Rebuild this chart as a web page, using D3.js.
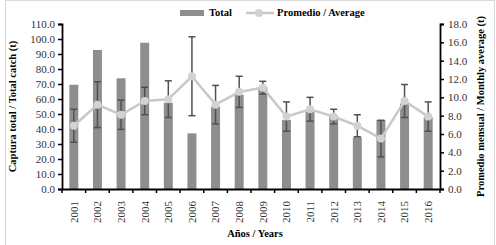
<!DOCTYPE html>
<html>
<head>
<meta charset="utf-8">
<script src="https://cdn.jsdelivr.net/npm/d3@7"></script>
<style>
  body { margin: 0; background: #fff; }
  svg { font-family: "Liberation Serif", "Times New Roman", serif; }
</style>
</head>
<body>
<div id="chart"></div>
<script>
const years = ["2001","2002","2003","2004","2005","2006","2007","2008","2009","2010","2011","2012","2013","2014","2015","2016"];
const totalCatch = [69.5, 92.7, 73.8, 97.5, 57.5, 37.1, 55.0, 62.7, 68.0, 46.0, 51.5, 49.0, 34.5, 46.0, 57.0, 48.0];
const monthlyAvg = [6.9, 9.2, 8.1, 9.6, 9.8, 12.3, 9.2, 10.6, 11.05, 7.9, 8.7, 7.9, 6.9, 5.5, 9.6, 7.9];
const avgError = [1.8, 2.5, 1.6, 1.5, 2.0, 4.3, 2.1, 1.7, 0.7, 1.6, 1.3, 0.8, 1.2, 2.0, 1.8, 1.6];
const leftTicks = d3.range(0, 110.1, 10);
const rightTicks = d3.range(0, 18.1, 2);

const width = 496, height = 245;
const margin = {top: 24, right: 56, bottom: 56, left: 62};

const svg = d3.select("#chart")
    .append("svg")
    .attr("width", width)
    .attr("height", height);

// light frame around the figure
svg.append("rect")
    .attr("x", 5.5).attr("y", 0.5)
    .attr("width", 489).attr("height", 250)
    .attr("fill", "none")
    .attr("stroke", "#d9d9d9");

const x = d3.scaleBand()
    .domain(years)
    .range([margin.left, width - margin.right])
    .paddingInner(0.62)
    .paddingOuter(0.31);

const yLeft = d3.scaleLinear().domain([0, 110]).range([height - margin.bottom, margin.top]);
const yRight = d3.scaleLinear().domain([0, 18]).range([height - margin.bottom, margin.top]);

// bars
svg.selectAll("rect.bar")
    .data(years)
    .enter()
    .append("rect")
    .attr("class", "bar")
    .attr("x", d => x(d))
    .attr("y", (d, i) => yLeft(totalCatch[i]))
    .attr("width", x.bandwidth())
    .attr("height", (d, i) => yLeft(0) - yLeft(totalCatch[i]))
    .attr("fill", "#8e8e8e");

const cx = d => x(d) + x.bandwidth() / 2;

// error bars
const err = svg.append("g").attr("stroke", "#505050").attr("stroke-width", 1.5);
years.forEach((d, i) => {
    const hi = yRight(monthlyAvg[i] + avgError[i]);
    const lo = yRight(monthlyAvg[i] - avgError[i]);
    err.append("line").attr("x1", cx(d)).attr("x2", cx(d)).attr("y1", hi).attr("y2", lo);
    err.append("line").attr("x1", cx(d) - 3.5).attr("x2", cx(d) + 3.5).attr("y1", hi).attr("y2", hi);
    err.append("line").attr("x1", cx(d) - 3.5).attr("x2", cx(d) + 3.5).attr("y1", lo).attr("y2", lo);
});

// average line
const line = d3.line()
    .x((d, i) => cx(years[i]))
    .y(d => yRight(d));

svg.append("path")
    .datum(monthlyAvg)
    .attr("d", line)
    .attr("fill", "none")
    .attr("stroke", "#c8c8c8")
    .attr("stroke-width", 2.5);

svg.selectAll("circle.pt")
    .data(monthlyAvg)
    .enter()
    .append("circle")
    .attr("class", "pt")
    .attr("cx", (d, i) => cx(years[i]))
    .attr("cy", d => yRight(d))
    .attr("r", 4)
    .attr("fill", "#d2d2d2");

// axes
const leftAxis = svg.append("g")
    .attr("transform", `translate(${margin.left},0)`)
    .call(d3.axisLeft(yLeft).tickValues(leftTicks).tickFormat(d3.format(".1f")).tickSize(4).tickPadding(3));

const rightAxis = svg.append("g")
    .attr("transform", `translate(${width - margin.right},0)`)
    .call(d3.axisRight(yRight).tickValues(rightTicks).tickFormat(d3.format(".1f")).tickSize(4).tickPadding(4));

const bottomAxis = svg.append("g")
    .attr("transform", `translate(0,${height - margin.bottom})`)
    .call(d3.axisBottom(x).tickSize(0).tickPadding(0));

// ticks on band boundaries
bottomAxis.selectAll(".boundary")
    .data(d3.range(years.length + 1))
    .enter()
    .append("line")
    .attr("x1", i => margin.left + i * x.step())
    .attr("x2", i => margin.left + i * x.step())
    .attr("y1", 0).attr("y2", 4)
    .attr("stroke", "#000").attr("stroke-width", 1.5);

bottomAxis.selectAll(".tick text")
    .attr("transform", "rotate(-90)")
    .attr("text-anchor", "end")
    .attr("x", -12)
    .attr("y", 0)
    .attr("dy", "0.35em");

[leftAxis, rightAxis, bottomAxis].forEach(a => {
    a.select(".domain").attr("stroke", "#000").attr("stroke-width", 1.8);
    a.selectAll(".tick line").attr("stroke", "#000").attr("stroke-width", 1.5);
    a.selectAll(".tick text")
        .attr("font-family", "Liberation Serif, serif")
        .attr("font-size", 11)
        .attr("fill", "#333");
});

// axis titles
svg.append("text")
    .attr("transform", `translate(16,${(margin.top + height - margin.bottom) / 2}) rotate(-90)`)
    .attr("text-anchor", "middle")
    .attr("font-size", 10.5)
    .attr("font-weight", "bold")
    .text("Captura total / Total catch (t)");

svg.append("text")
    .attr("transform", `translate(484,${(margin.top + height - margin.bottom) / 2}) rotate(-90)`)
    .attr("text-anchor", "middle")
    .attr("font-size", 10.5)
    .attr("font-weight", "bold")
    .text("Promedio mensual / Monthly average (t)");

svg.append("text")
    .attr("x", 255)
    .attr("y", 237)
    .attr("text-anchor", "middle")
    .attr("font-size", 10.5)
    .attr("font-weight", "bold")
    .text("Años / Years");

// legend
const legend = svg.append("g").attr("font-size", 10.5).attr("font-weight", "bold");
legend.append("rect")
    .attr("x", 180).attr("y", 10).attr("width", 24).attr("height", 6)
    .attr("fill", "#8e8e8e");
legend.append("text").attr("x", 209).attr("y", 16).text("Total");
legend.append("line")
    .attr("x1", 246).attr("x2", 274).attr("y1", 13).attr("y2", 13)
    .attr("stroke", "#c8c8c8").attr("stroke-width", 2.5);
legend.append("circle").attr("cx", 259).attr("cy", 13).attr("r", 4).attr("fill", "#d2d2d2");
legend.append("text").attr("x", 277).attr("y", 16).text("Promedio / Average");
</script>
</body>
</html>
